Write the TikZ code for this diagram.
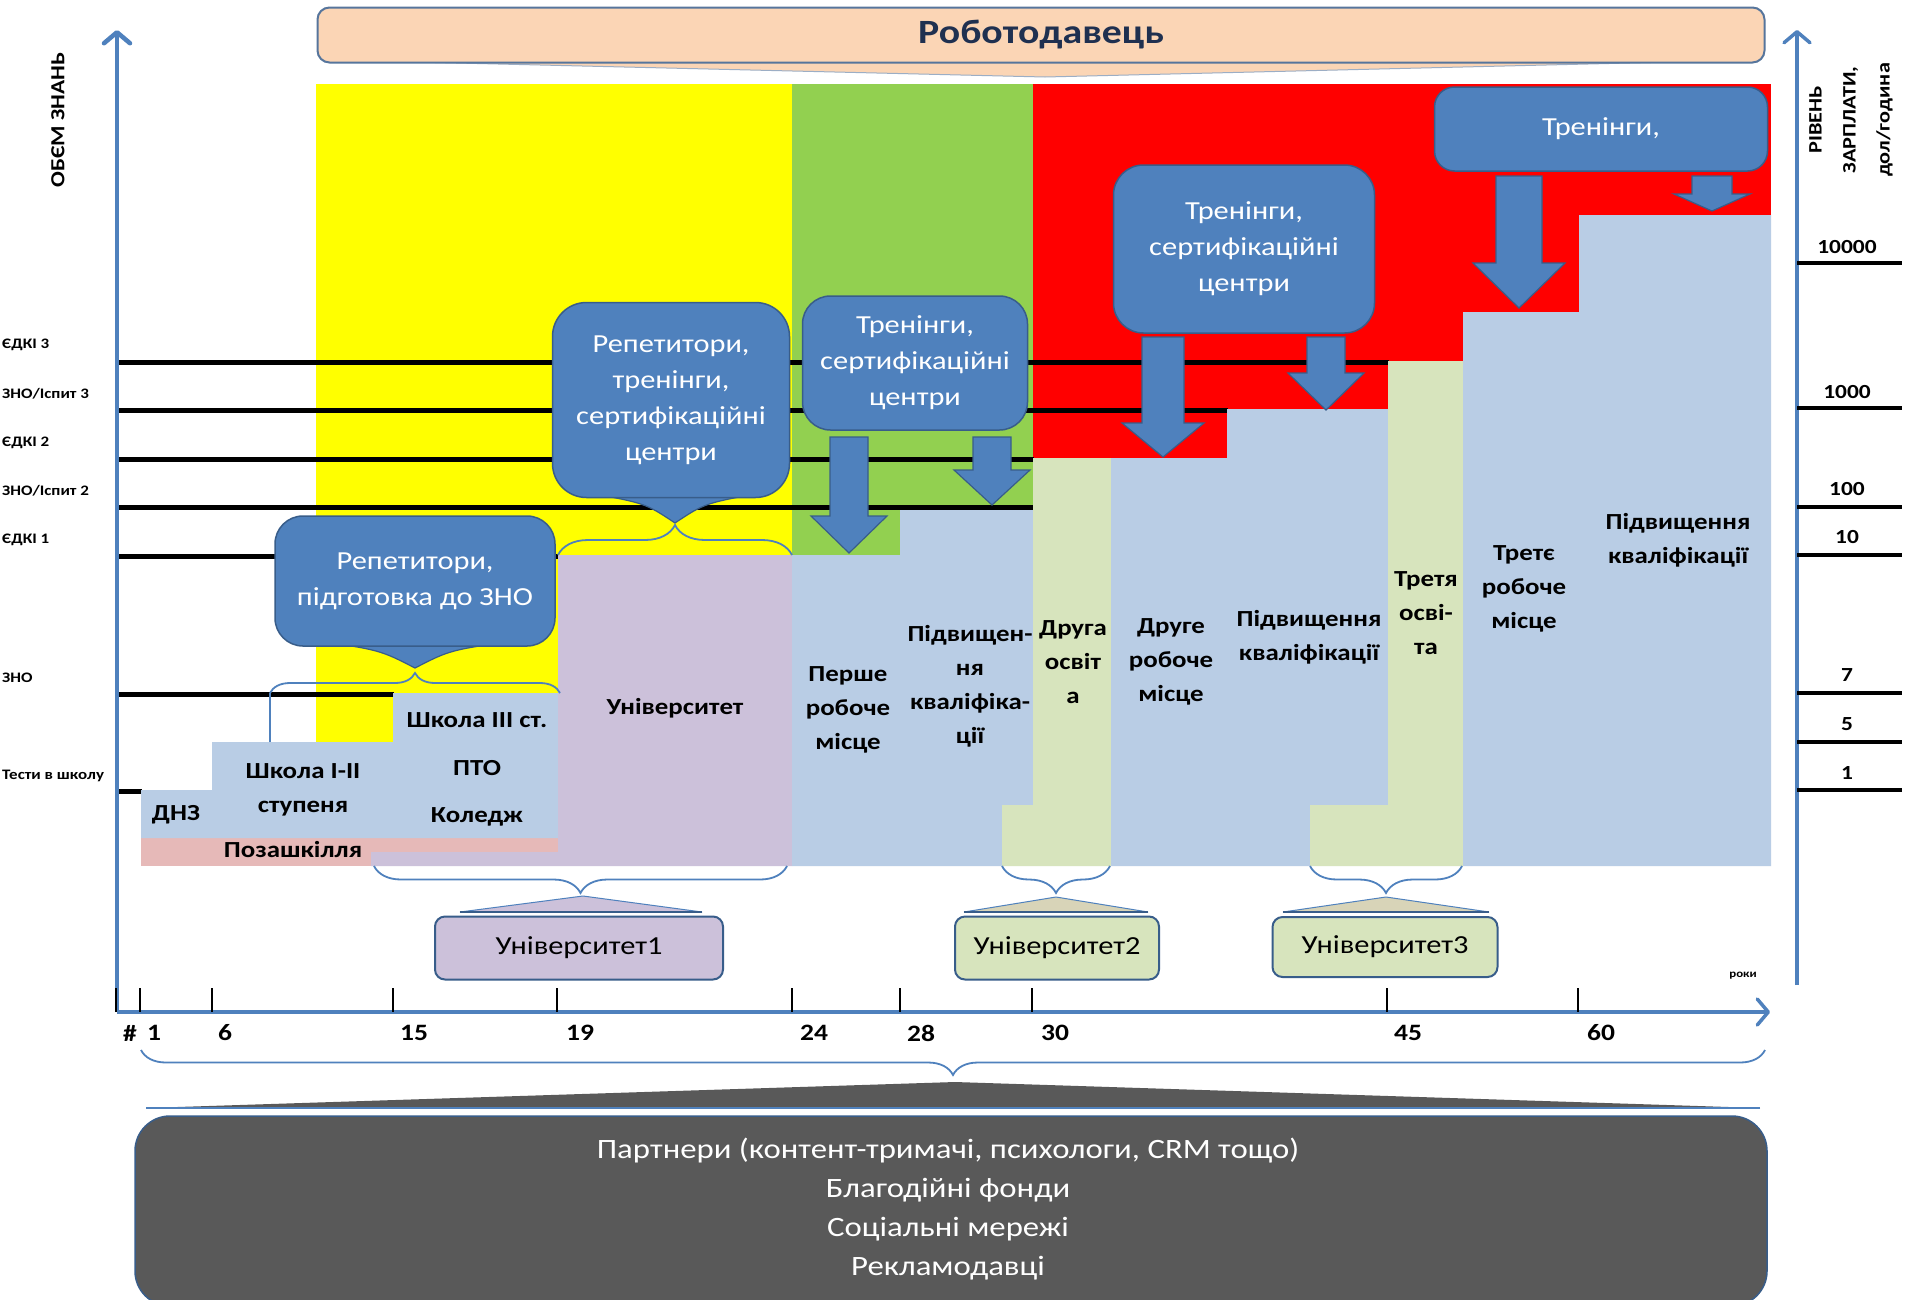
\documentclass[tikz,border=0pt]{standalone}
\usepackage{fontspec}
\setmainfont{Carlito}[FakeStretch=1.17]
\usetikzlibrary{decorations.pathreplacing,arrows.meta}
\definecolor{cyellow}{HTML}{FFFF00}
\definecolor{cgreen}{HTML}{92D050}
\definecolor{cred}{HTML}{FF0000}
\definecolor{cblue}{HTML}{B9CDE5}
\definecolor{clav}{HTML}{CCC1DA}
\definecolor{clgreen}{HTML}{D7E4BD}
\definecolor{cpink}{HTML}{E6B9B8}
\definecolor{cbox}{HTML}{4F81BD}
\definecolor{cboxb}{HTML}{385D8A}
\definecolor{cpeach}{HTML}{FBD5B5}
\definecolor{cdark}{HTML}{595959}
\definecolor{ctan}{HTML}{D8D4B8}
\definecolor{cnavy}{HTML}{1F3050}
\newcommand{\bdarrow}[6]{%
  \filldraw[barrow] ({#1-#5},#2) -- ({#1+#5},#2) -- ({#1+#5},#3) -- ({#1+#6},#3) -- (#1,#4) -- ({#1-#6},#3) -- ({#1-#5},#3) -- cycle;}
\begin{document}
\begin{tikzpicture}[x=1pt,y=-1pt,
  lvl/.style={line width=5pt, black},
  brc/.style={draw=cbox, line width=1.8pt},
  barrow/.style={fill=cbox, draw=cboxb, line width=1.2pt},
  wedgeb/.style={fill=cbox, draw=cboxb, line width=1.2pt},
  bluecall/.style={draw=cboxb, fill=cbox, line width=1.5pt, text=white, align=center, font=\fontsize{26}{36}\selectfont, inner sep=0pt},
  lbl/.style={align=center, font=\bfseries\fontsize{23}{34}\selectfont, inner sep=0pt},
  smalllbl/.style={font=\bfseries\fontsize{14.5}{16}\selectfont, inner sep=0pt, anchor=west},
  rlbl/.style={font=\bfseries\fontsize{20}{22}\selectfont, inner sep=0pt},
  ticklbl/.style={font=\bfseries\fontsize{23.5}{26}\selectfont, inner sep=0pt},
  axis/.style={draw=cbox, line width=4.5pt, -{Straight Barb[length=11pt,width=26pt,round]}},
  tck/.style={black, line width=2pt},
  ubox/.style={draw=cboxb, line width=2pt, rounded corners=10pt, font=\fontsize{26}{30}\selectfont, inner sep=0pt},
]
\useasboundingbox (0,0) rectangle (1905,1299);
\fill[white] (0,0) rectangle (1905,1299);

% background zones
\fill[cyellow] (316,84) rectangle (792,742);
\fill[cgreen] (792,84) rectangle (1033,555);
\fill[cred] (1033,84) rectangle (1771,458);

% knowledge levels
\draw[lvl] (117,362) -- (1389,362);
\draw[lvl] (117,410) -- (1228,410);
\draw[lvl] (117,459) -- (1034,459);
\draw[lvl] (117,507) -- (1035,507);
\draw[lvl] (117,556) -- (558,556);
\draw[lvl] (117,694) -- (394,694);
\draw[lvl] (117,791) -- (142,791);

% stepped regions
\fill[cpink] (141,838) rectangle (558,866);
\fill[cblue] (141,790) -- (212,790) -- (212,742) -- (393,742) -- (393,693) -- (558,693) -- (558,838) -- (141,838) -- cycle;
\fill[clav] (558,555) -- (792,555) -- (792,866) -- (371,866) -- (371,852) -- (558,852) -- cycle;
\fill[cblue] (792,555) -- (900,555) -- (900,510) -- (1033,510) -- (1033,805) -- (1002,805) -- (1002,866) -- (792,866) -- cycle;
\fill[clgreen] (1033,458) -- (1111,458) -- (1111,866) -- (1002,866) -- (1002,805) -- (1033,805) -- cycle;
\fill[cblue] (1111,458) -- (1227,458) -- (1227,409) -- (1388,409) -- (1388,805) -- (1310,805) -- (1310,866) -- (1111,866) -- cycle;
\fill[clgreen] (1388,361) -- (1463,361) -- (1463,866) -- (1310,866) -- (1310,805) -- (1388,805) -- cycle;
\fill[cblue] (1463,312) -- (1579,312) -- (1579,215) -- (1771,215) -- (1771,866) -- (1463,866) -- cycle;

% region labels
\node[lbl] (dnz) at (176,815) {ДНЗ};
\node[lbl] (sch12) at (303,790) {Школа I-II\\ступеня};
\node[lbl] (sch3) at (477,720) {Школа III ст.};
\node[lbl] (pto) at (477,768) {ПТО};
\node[lbl] (coll) at (477,817) {Коледж};
\node[lbl] (pozash) at (293,850) {Позашкілля};
\node[lbl] (univ) at (675,708) {Університет};
\node[lbl] (work1) at (848,710) {Перше\\робоче\\місце};
\node[lbl] (qual1) at (970,686) {Підвищен-\\ня\\кваліфіка-\\ції};
\node[lbl] (edu2) at (1073,662) {Друга\\освіт\\а};
\node[lbl] (work2) at (1171,662) {Друге\\робоче\\місце};
\node[lbl] (qual2) at (1309,637) {Підвищення\\кваліфікації};
\node[lbl] (edu3) at (1426,613) {Третя\\осві-\\та};
\node[lbl] (work3) at (1524,589) {Третє\\робоче\\місце};
\node[lbl] (qual3) at (1678,540) {Підвищення\\кваліфікації};

% braces over school / university
\draw[brc] (270,742) -- (270,693);
\draw[brc, decorate, decoration={brace,amplitude=20pt}] (270,693) -- (560,693);
\draw[brc, decorate, decoration={brace,amplitude=30pt}] (558,555) -- (792,555);

% callouts
\filldraw[wedgeb] (312,640) .. controls (380,650) .. (415,668) .. controls (450,650) .. (520,640) -- cycle;
\node[bluecall, rounded corners=28pt, minimum width=280, minimum height=130] (rep1) at (415,581) {Репетитори,\\підготовка до ЗНО};
\filldraw[wedgeb] (583,492) .. controls (645,503) .. (675,523) .. controls (705,503) .. (767,492) -- cycle;
\node[bluecall, rounded corners=34pt, minimum width=237, minimum height=195] (rep2) at (671,400) {Репетитори,\\тренінги,\\сертифікаційні\\центри};
\node[bluecall, rounded corners=28pt, minimum width=225, minimum height=134] (tr1) at (915,363) {Тренінги,\\сертифікаційні\\центри};
\node[bluecall, rounded corners=30pt, minimum width=261, minimum height=168] (tr2) at (1244,249) {Тренінги,\\сертифікаційні\\центри};
\node[bluecall, rounded corners=20pt, minimum width=333, minimum height=84] (tr3) at (1601,129) {Тренінги,};

% block arrows
\bdarrow{849}{437}{516}{553}{19}{38}
\bdarrow{992}{437}{470}{505}{19}{38}
\bdarrow{1163}{337}{423}{457}{21}{41}
\bdarrow{1326}{337}{373}{410}{19}{38}
\bdarrow{1519}{176}{263}{308}{23}{46}
\bdarrow{1712}{176}{194}{211}{20}{38}

% university braces and callouts
\draw[brc, decorate, decoration={brace,amplitude=27pt}] (787,866) -- (374,866);
\draw[brc, decorate, decoration={brace,amplitude=27pt}] (1110,866) -- (1002,866);
\draw[brc, decorate, decoration={brace,amplitude=27pt}] (1462,866) -- (1310,866);
\filldraw[fill=clav, draw=cbox, line width=1pt] (460,912) -- (583,896) -- (702,912) -- cycle;
\filldraw[fill=ctan, draw=cbox, line width=1pt] (964,912) -- (1056,897) -- (1148,912) -- cycle;
\filldraw[fill=ctan, draw=cbox, line width=1pt] (1283,912) -- (1386,897) -- (1489,912) -- cycle;
\draw[cboxb, line width=2.5pt] (460,912) -- (702,912);
\draw[cboxb, line width=2.5pt] (964,912) -- (1148,912);
\draw[cboxb, line width=2.5pt] (1283,912) -- (1489,912);
\node[ubox, fill=clav, minimum width=288, minimum height=63] (u1) at (579,948) {Університет1};
\node[ubox, fill=clgreen, minimum width=204, minimum height=63] (u2) at (1057,948) {Університет2};
\node[ubox, fill=clgreen, minimum width=225, minimum height=60] (u3) at (1385,947) {Університет3};

% axes
\draw[axis] (117,1012) -- (117,30);
\draw[axis, line width=3.5pt] (1797,985) -- (1797,30);
\draw[axis, line width=3.5pt] (117,1012) -- (1770,1012);
\foreach \x in {116,140,212,393,557,792,900,1032,1387,1578}
  \draw[tck] (\x,988) -- (\x,1012);
\foreach \x/\t in {130/\#,154/1,225/6,414/15,580/19,814/24,921/28,1055/30,1408/45,1601/60}
  \node[ticklbl] (tl\x) at (\x,1033) {\t};
\node[font=\bfseries\fontsize{11}{13}\selectfont, inner sep=0pt] (roky) at (1743,976) {роки};

% left scale labels
\node[smalllbl] (e3) at (2,345) {ЄДКІ 3};
\node[smalllbl] (z3) at (2,394) {ЗНО/Іспит 3};
\node[smalllbl] (e2) at (2,443) {ЄДКІ 2};
\node[smalllbl] (z2) at (2,491) {ЗНО/Іспит 2};
\node[smalllbl] (e1) at (2,540) {ЄДКІ 1};
\node[smalllbl] (zno) at (2,678) {ЗНО};
\node[smalllbl] (tests) at (2,776) {Тести в школу};
\node[rotate=90, font=\bfseries\fontsize{20}{26}\selectfont, inner sep=0pt] (ylab) at (58,120) {ОБЄМ ЗНАНЬ};

% right scale
\foreach \y in {263,408,507,555,693,742,790}
  \draw[lvl, line width=4.5pt] (1797,\y) -- (1902,\y);
\foreach \y/\t in {247/10000,392/1000,489/100,537/10,675/7,724/5,773/1}
  \node[rlbl] (r\t) at (1847,\y) {\t};
\node[rotate=90, align=center, font=\bfseries\fontsize{19}{34}\selectfont, inner sep=0pt] (ylabr) at (1851,120) {РІВЕНЬ\\ЗАРПЛАТИ,\\дол/година};

% employer
\filldraw[fill=cpeach, draw=cboxb!50, line width=1pt] (330,60) -- (1045,77) -- (1755,60) -- cycle;
\node[draw=cboxb!85, fill=cpeach, line width=2pt, rounded corners=12pt, minimum width=1447, minimum height=55, inner sep=0pt,
  font=\bfseries\fontsize{34}{40}\selectfont, text=cnavy] (employer) at (1041,35) {Роботодавець};

% partners
\draw[brc, decorate, decoration={brace,amplitude=25pt}] (1765,1050) -- (141,1050);
\fill[cdark] (146,1108) -- (955,1082) -- (1760,1108) -- cycle;
\draw[cbox, line width=2.5pt] (146,1108) -- (1760,1108);
\node[fill=cdark, draw=cboxb, line width=1.5pt, rounded corners=35pt, minimum width=1632, minimum height=190, inner sep=0pt] (partners) at (951,1211) {};
\node[text=white, align=center, font=\fontsize{28}{39}\selectfont, inner sep=0pt] (ptext) at (948,1209) {Партнери (контент-тримачі, психологи, CRM тощо)\\Благодійні фонди\\Соціальні мережі\\Рекламодавці};
\end{tikzpicture}
\end{document}
